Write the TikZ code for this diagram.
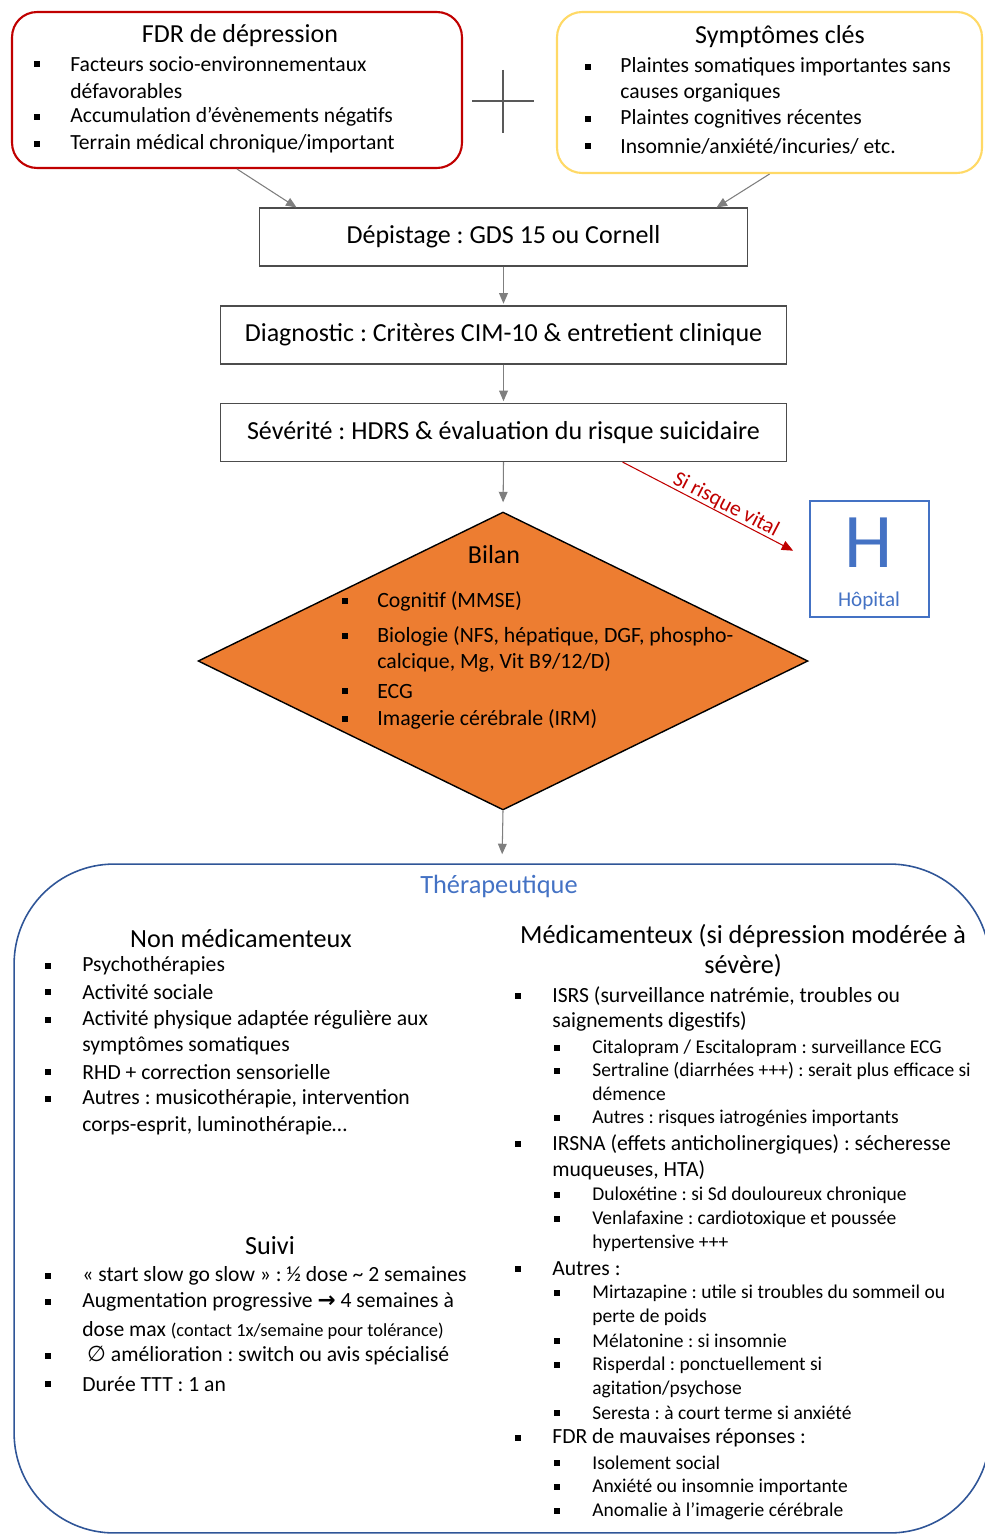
\documentclass[tikz,border=0pt]{standalone}
\usepackage{fontspec}
\setmainfont{Carlito}
\newfontfamily\symb{DejaVu Sans}
\usetikzlibrary{arrows.meta,shapes.geometric}
\frenchspacing

\definecolor{rougefdr}{HTML}{C00000}
\definecolor{jaunesym}{HTML}{FFD966}
\definecolor{bleuh}{HTML}{4472C4}
\definecolor{bleuthera}{HTML}{2F5597}
\definecolor{grisfleche}{HTML}{7F7F7F}
\definecolor{orangebilan}{HTML}{ED7D31}

\newcommand\taille[1]{\fontsize{#1}{#1}\selectfont}

\tikzset{
    etape/.style={draw=black!70, line width=0.6pt, minimum height=1.16cm, font=\taille{14.8}},
    fleche/.style={draw=grisfleche, line width=0.6pt, -{Triangle[length=6pt,width=5pt]}, fill=grisfleche},
    puce/.style={fill=black, inner sep=0pt, minimum width=3.2pt, minimum height=3.6pt},
    ligne/.style={anchor=west, inner sep=0pt},
    titre/.style={font=\taille{14.9}},
}

\begin{document}
\begin{tikzpicture}[x=0.02cm, y=-0.02cm]
        \useasboundingbox (0,0) rectangle (984,1534);

        % haut
        \node[draw=rougefdr, line width=1.2pt, rounded corners=0.5cm, minimum width=9cm, minimum height=3.12cm] (fdr) at (237,90) {};
        \node[draw=jaunesym, line width=1.2pt, rounded corners=0.5cm, minimum width=8.5cm, minimum height=3.22cm] (sym) at (769.5,92.5) {};
        \node[font=\taille{14.8}] (fdrtitre) at (240,36) {FDR de dépression};
        \node[font=\taille{14.8}] (symtitre) at (780,37) {Symptômes clés};
        \begin{scope}[font=\taille{12.3}]
            \foreach \y/\t in {64/Facteurs socio-environnementaux, 91/défavorables, 117/Accumulation d’évènements négatifs, 144/{Terrain médical chronique/important}}{
                \node[ligne] (f\y) at (70,\y) {\t};
            }
            \foreach \y/\t in {67/Plaintes somatiques importantes sans, 93/causes organiques, 119/Plaintes cognitives récentes, 146/{Insomnie/anxiété/incuries/ etc.}}{
                \node[ligne] (s\y) at (620,\y) {\t};
            }
        \end{scope}
        \foreach \y in {64,117,144}{
            \node[puce] (pf\y) at (37,\y) {};
        }
        \foreach \y in {67,119,146}{
            \node[puce] (ps\y) at (588,\y) {};
        }
        \draw[black!65, line width=1.2pt] (472,101) -- (534,101) (503,70) -- (503,133);

        % etapes
        \node[etape, minimum width=9.78cm] (depist) at (503.5,237) {Dépistage : GDS 15 ou Cornell};
        \node[etape, minimum width=11.34cm] (diag) at (503.5,335) {Diagnostic : Critères CIM-10 \& entretient clinique};
        \node[etape, minimum width=11.34cm] (sev) at (503.5,432.5) {Sévérité : HDRS \& évaluation du risque suicidaire};
        \draw[fleche] (fdr.south) -- ([xshift=0.76cm]depist.north west);
        \draw[fleche] (sym.south) -- ([xshift=-0.64cm]depist.north east);
        \draw[fleche, shorten >=1pt] (depist.south) -- (diag.north);
        \draw[fleche, shorten >=1pt] (diag.south) -- (sev.north);

        % hopital
        \node[draw=bleuh, line width=1pt, minimum width=2.38cm, minimum height=2.32cm] (hop) at (869.5,559) {};
        \node[text=bleuh, font=\taille{44}] (hlettre) at (869,543) {H};
        \node[text=bleuh, font=\taille{12}] (hoptxt) at (869,601) {Hôpital};
        \draw[rougefdr, line width=0.6pt, -{Triangle[length=6.5pt,width=5.5pt]}, shorten >=0.36cm] ([xshift=-3.3cm]sev.south east) -- (hop.west)
            node[pos=0.53, sloped, anchor=south, inner sep=0pt, font=\taille{12.3}] (risque) {Si risque vital};

        % bilan
        \node[diamond, draw=black, fill=orangebilan, line width=0.8pt, minimum width=12.2cm, minimum height=5.96cm, inner sep=0pt] (bilan) at (503,661) {};
        \draw[fleche, shorten >=0.18cm] (sev.south) -- (bilan.north);
        \node[font=\taille{14.8}] (bilantitre) at (494,555) {Bilan};
        \begin{scope}[font=\taille{12.4}]
            \foreach \y/\t in {601/Cognitif (MMSE), 636/{Biologie (NFS, hépatique, DGF, phospho-}, 662/{calcique, Mg, Vit B9/12/D)}, 691/ECG, 719/Imagerie cérébrale (IRM)}{
                \node[ligne] (b\y) at (377,\y) {\t};
            }
        \end{scope}
        \foreach \y in {601,636,691,719}{
            \node[puce] (pb\y) at (345,\y) {};
        }

        % therapeutique
        \node[draw=bleuthera, line width=0.9pt, rounded corners=2cm, minimum width=19.52cm, minimum height=13.38cm] (thera) at (502,1198.5) {};
        \draw[fleche, shorten >=0.18cm] (bilan.south) -- (thera.north);
        \node[text=bleuh, font=\taille{15}] (theratitre) at (499,886) {Thérapeutique};

        \node[titre] (nonmed) at (241,938) {Non médicamenteux};
        \node[titre] (suivi) at (270,1246) {Suivi};
        \node[titre] (med1) at (743,936) {Médicamenteux (si dépression modérée à};
        \node[titre] (med2) at (743,966) {sévère)};

        \begin{scope}[shift={(82,0)}, font=\taille{12.3}]
            \foreach \y/\t in {966/Psychothérapies, 992/Activité sociale, 1020/Activité physique adaptée régulière aux, 1046/symptômes somatiques, 1072/RHD + correction sensorielle, 1099/{Autres : musicothérapie, intervention}, 1126/{corps-esprit, luminothérapie…}}{
                \node[ligne] (n\y) at (0,\y) {\t};
            }
            \foreach \y/\t in {1276/{« start slow go slow » : ½ dose \textasciitilde{} 2 semaines}, 1302/{Augmentation progressive {\symb\bfseries →} 4 semaines à}, 1330/{dose max {\taille{10.5}(contact 1x/semaine pour tolérance)}}, 1356/{\ {\symb ∅} amélioration : switch ou avis spécialisé}, 1384/Durée TTT : 1 an}{
                \node[ligne] (u\y) at (0,\y) {\t};
            }
            \foreach \y in {966,992,1020,1072,1099,1276,1302,1356,1384}{
                \node[puce] (pn\y) at (-34,\y) {};
            }
        \end{scope}

        \begin{scope}[shift={(552,0)}]
            \foreach \y/\t in {996/{ISRS (surveillance natrémie, troubles ou}, 1021/saignements digestifs), 1144/IRSNA (effets anticholinergiques) : sécheresse, 1170/{muqueuses, HTA)}, 1269/Autres :, 1438/FDR de mauvaises réponses :}{
                \node[ligne, font=\taille{12.3}] (m\y) at (0,\y) {\t};
            }
            \foreach \y in {996,1144,1269,1438}{
                \node[puce] (pm\y) at (-34,\y) {};
            }
            \foreach \y/\t in {1048/{Citalopram / Escitalopram : surveillance ECG}, 1071/Sertraline (diarrhées +++) : serait plus efficace si, 1094/démence, 1118/Autres : risques iatrogénies importants, 1195/Duloxétine : si Sd douloureux chronique, 1219/Venlafaxine : cardiotoxique et poussée, 1243/hypertensive +++, 1293/Mirtazapine : utile si troubles du sommeil ou, 1317/perte de poids, 1341/Mélatonine : si insomnie, 1365/Risperdal : ponctuellement si, 1389/{agitation/psychose}, 1413/Seresta : à court terme si anxiété, 1463/Isolement social, 1487/Anxiété ou insomnie importante, 1511/Anomalie à l’imagerie cérébrale}{
                \node[ligne, font=\taille{11.1}] (d\y) at (40,\y) {\t};
            }
            \foreach \y in {1048,1071,1118,1195,1219,1293,1341,1365,1413,1463,1487,1511}{
                \node[puce] (pd\y) at (5,\y) {};
            }
        \end{scope}
    \end{tikzpicture}
\end{document}
